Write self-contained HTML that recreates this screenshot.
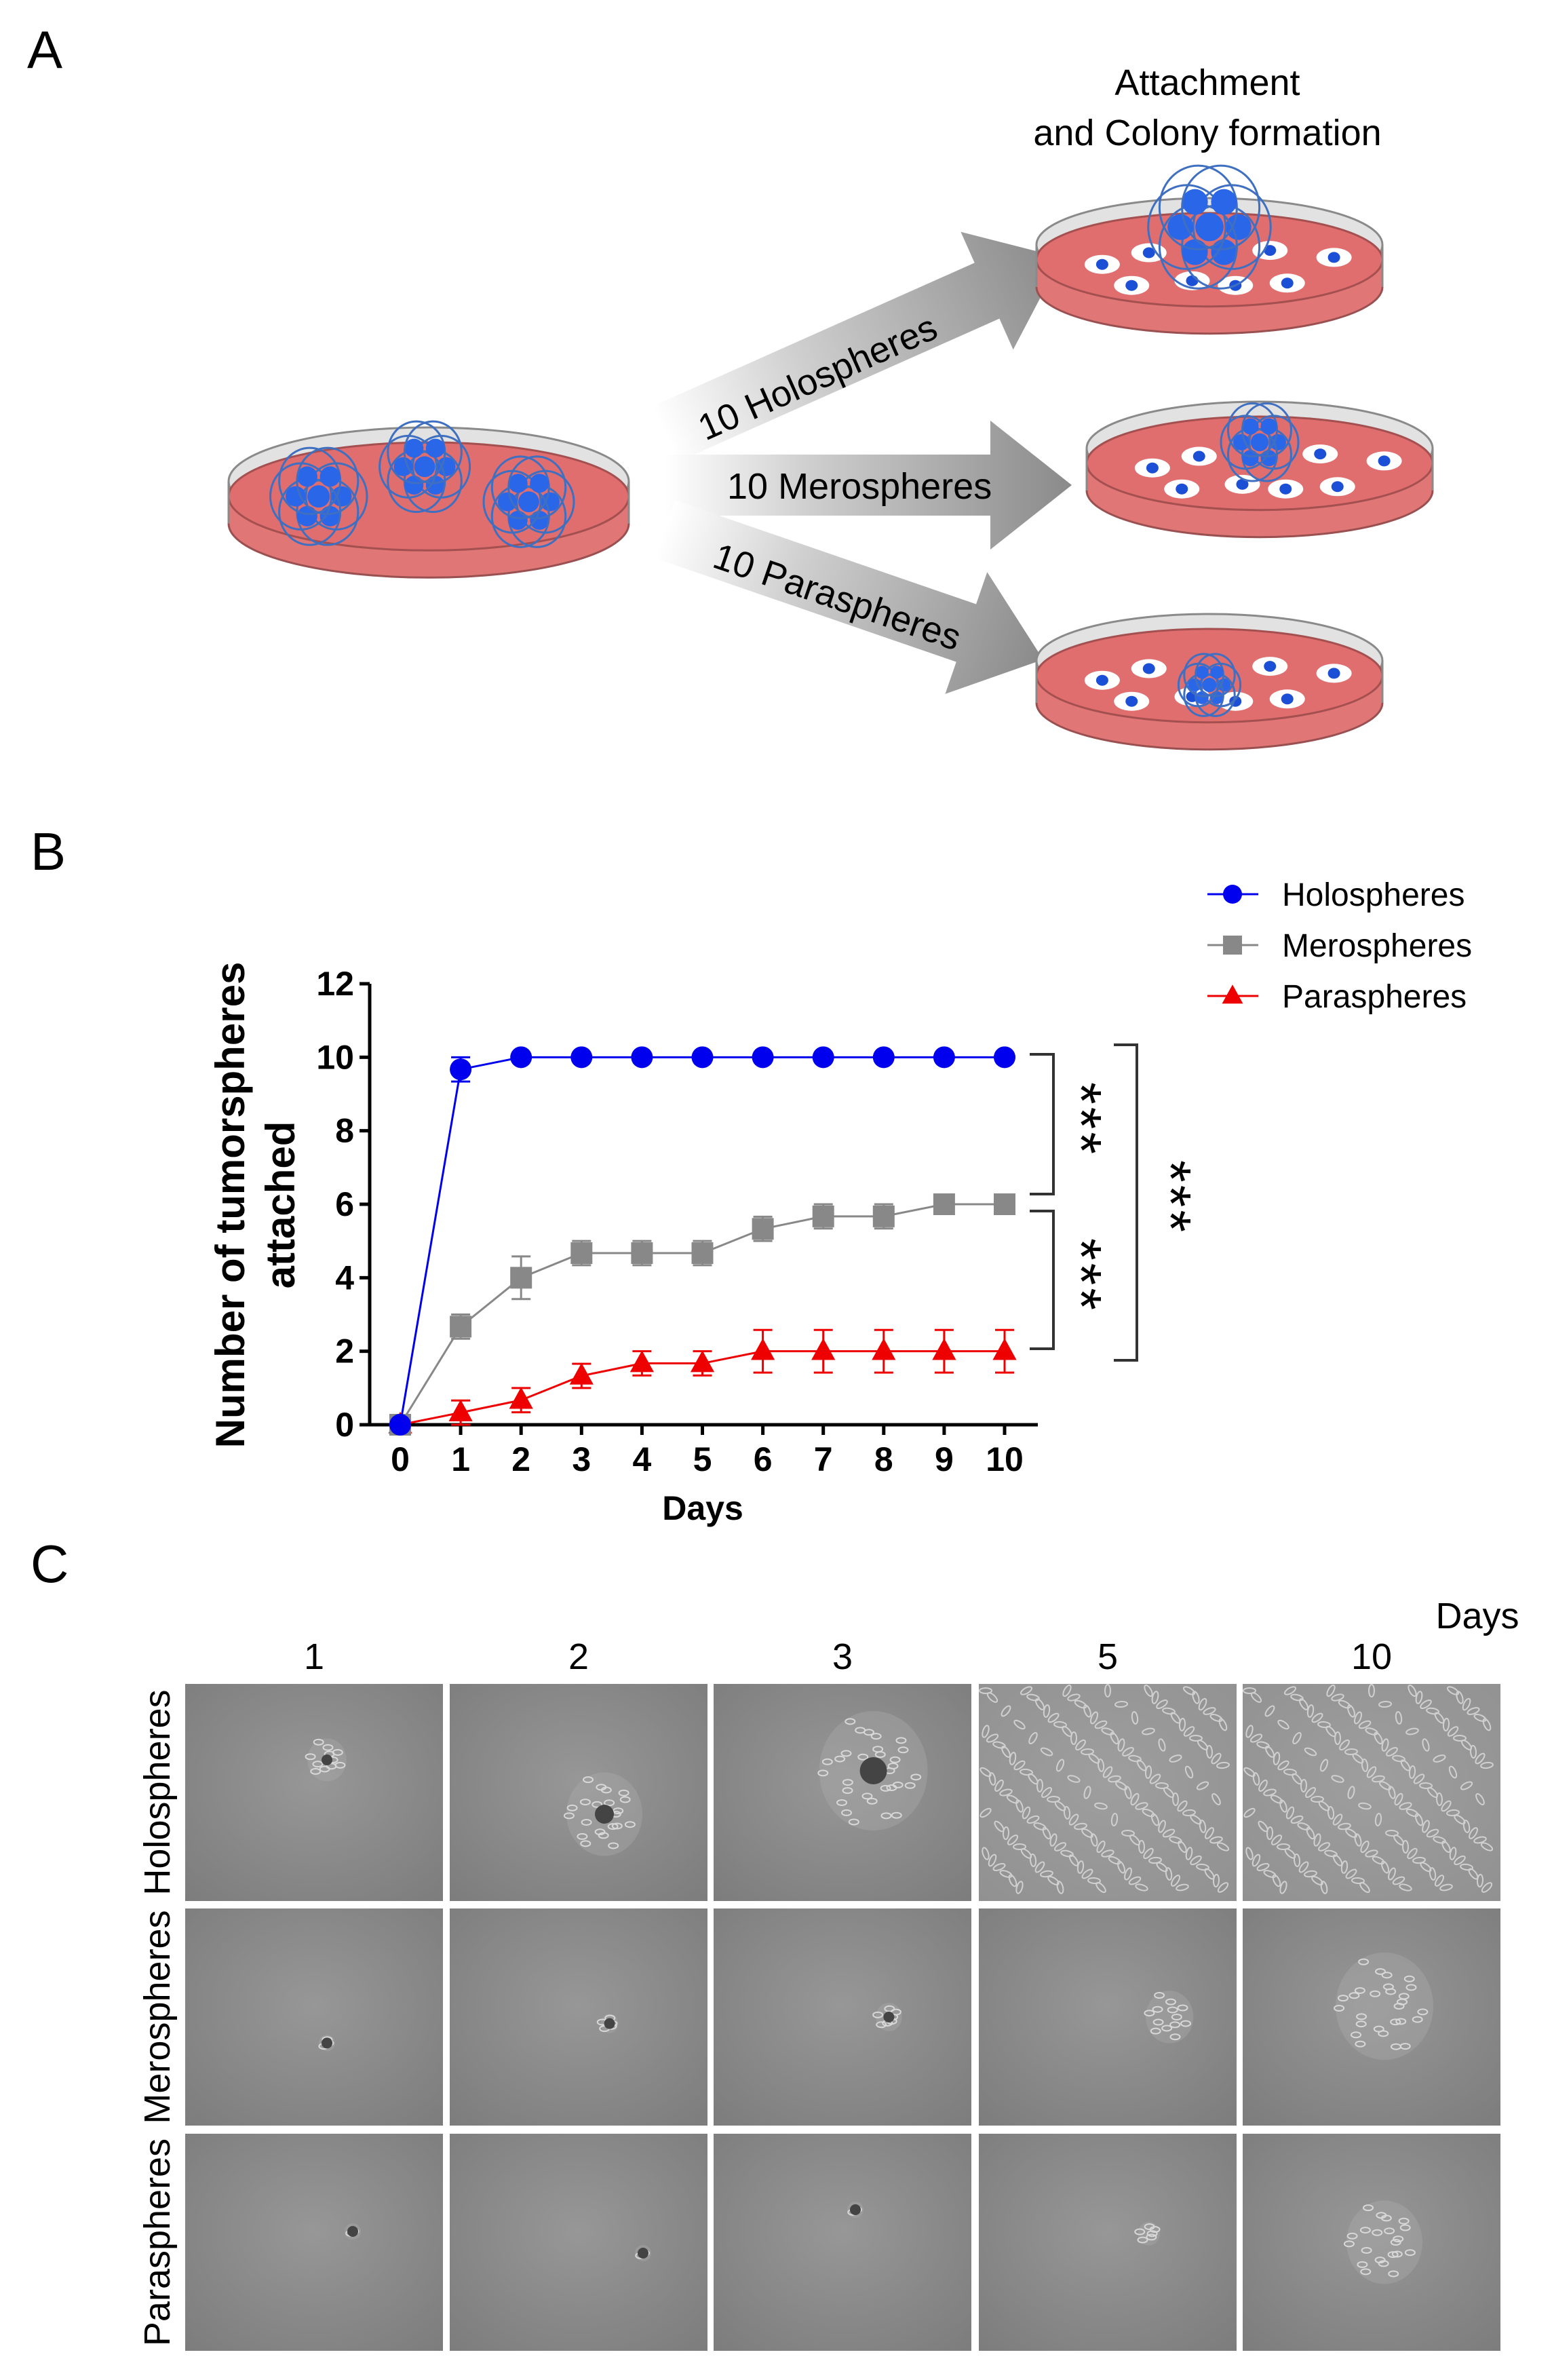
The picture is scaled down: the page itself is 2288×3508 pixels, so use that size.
<!DOCTYPE html>
<html><head><meta charset="utf-8"><style>
html,body{margin:0;padding:0;background:#fff;}
svg{display:block;}
text{font-family:"Liberation Sans",sans-serif;}
</style></head><body>
<svg id="fig" width="2288" height="3508" viewBox="0 0 2288 3508" xmlns="http://www.w3.org/2000/svg">
<defs>
<linearGradient id="arrG" x1="0" y1="0" x2="1" y2="0"><stop offset="0" stop-color="#fff"/><stop offset="0.35" stop-color="#cfcfcf"/><stop offset="1" stop-color="#8a8a8a"/></linearGradient>
<radialGradient id="photoG" cx="0.5" cy="0.45" r="0.75"><stop offset="0" stop-color="#979797"/><stop offset="1" stop-color="#7c7c7c"/></radialGradient>
</defs>
<text x="40" y="100" font-size="78">A</text>
<text x="1780" y="140" font-size="54" text-anchor="middle">Attachment</text>
<text x="1780" y="214" font-size="54" text-anchor="middle">and Colony formation</text>
<g id="arrows">
<g transform="translate(980,640) rotate(-24)"><polygon points="0,-45 520,-45 520,-95 640,0 520,95 520,45 0,45" fill="url(#arrG)"/></g>
<g transform="translate(980,715)"><polygon points="0,-45 480,-45 480,-95 600,0 480,95 480,45 0,45" fill="url(#arrG)"/></g>
<g transform="translate(980,780) rotate(19)"><polygon points="0,-45 470,-45 470,-95 590,0 470,95 470,45 0,45" fill="url(#arrG)"/></g>
</g>
<text font-size="54" transform="translate(1040,650) rotate(-24)">10 Holospheres</text>
<text font-size="54" x="1072" y="735">10 Merospheres</text>
<text font-size="54" transform="translate(1048,835) rotate(19)">10 Paraspheres</text>
<g id="dishes"></g>
<text x="45" y="1282" font-size="78">B</text>
<g id="chart"></g>
<text x="45" y="2332" font-size="78">C</text>
<text x="2178" y="2400" font-size="54" text-anchor="middle">Days</text>
<g id="photos"></g>
</svg>
<script>
const NS='http://www.w3.org/2000/svg';
function mk(tag,attrs,parent){const e=document.createElementNS(NS,tag);for(const k in attrs)e.setAttribute(k,attrs[k]);parent.appendChild(e);return e;}

const dishes=document.getElementById('dishes');
function dish(cx,top,rx,name,spheres,cells){
  const g=mk('g',{},dishes);
  
  
  const ry=rx*0.27;
  const bc=top+ry+50;
  mk('ellipse',{cx:cx,cy:bc+12,rx:rx,ry:ry,fill:'#e07676',stroke:'#9a5050','stroke-width':3},g);
  mk('rect',{x:cx-rx,y:bc-28,width:rx*2,height:40,fill:'#e07676'},g);
  mk('ellipse',{cx:cx,cy:top+ry,rx:rx,ry:ry,fill:'#e2e2e2',stroke:'#8a8a8a','stroke-width':3},g);
  mk('ellipse',{cx:cx,cy:bc-28,rx:rx,ry:ry,fill:'#e06e6e',stroke:'#a45050','stroke-width':3},g);
  mk('path',{d:`M${cx-rx},${top+ry} L${cx-rx},${bc+12} M${cx+rx},${top+ry} L${cx+rx},${bc+12}`,stroke:'#8a8a8a','stroke-width':3},g);
  cells.forEach(c=>{
    mk('ellipse',{cx:cx+c[0]*rx,cy:bc-28+c[1]*ry,rx:26,ry:14,fill:'#fff'},g);
    mk('ellipse',{cx:cx+c[0]*rx,cy:bc-28+c[1]*ry,rx:9,ry:8,fill:'#1a4fd6'},g);
  });
  spheres.forEach(s=>{
    const sx=cx+s[0]*rx, sy=bc-28+s[1]*ry, r=s[2];
    for(let i=0;i<6;i++){const a=i*Math.PI/3;
      mk('ellipse',{cx:sx+Math.cos(a)*r*0.35,cy:sy+Math.sin(a)*r*0.35,rx:r*0.6,ry:r*0.65,fill:'none',stroke:'#3f6fc0','stroke-width':3},g);
      mk('circle',{cx:sx+Math.cos(a)*r*0.45,cy:sy+Math.sin(a)*r*0.45,r:r*0.2,fill:'#2a66e8'},g);}
    mk('circle',{cx:sx,cy:sy,r:r*0.22,fill:'#2a66e8'},g);
  });
}
const cellsA=[[-0.62,0.1],[-0.35,-0.15],[0.35,-0.2],[0.72,-0.05],[-0.1,0.45],[0.15,0.55],[0.45,0.5],[-0.45,0.55]];
dish(632,630,295,'source-dish',[[-0.55,0.0,75],[-0.02,-0.55,70],[0.5,0.1,70]],[]);
dish(1783,292,255,'holosphere-dish',[[0.0,-0.7,95]],cellsA);
dish(1857,592,255,'merosphere-dish',[[0.0,-0.45,60]],cellsA);
dish(1783,905,255,'parasphere-dish',[[0.0,0.2,48]],cellsA);

// ---- chart data ----
const days=[0,1,2,3,4,5,6,7,8,9,10];
const holoMean=[0,9.67,10,10,10,10,10,10,10,10,10];
const holoErr=[0,0.33,0,0,0,0,0,0,0,0,0];
const meroMean=[0,2.67,4,4.67,4.67,4.67,5.33,5.67,5.67,6,6];
const meroErr=[0,0.33,0.58,0.33,0.33,0.33,0.33,0.33,0.33,0,0];
const paraMean=[0,0.33,0.67,1.33,1.67,1.67,2,2,2,2,2];
const paraErr=[0,0.33,0.33,0.33,0.33,0.33,0.58,0.58,0.58,0.58,0.58];
const yTicks=[0,2,4,6,8,10,12];
const seriesNames=['Holospheres','Merospheres','Paraspheres'];

const X0=590,X1=1481,Y0=2100,Y1=1450;
const xs=d=>X0+(X1-X0)*d/10;
const ys=v=>Y0-(Y0-Y1)*v/12;
const chart=document.getElementById('chart');
const ax=mk('g',{},chart);


mk('line',{x1:545,y1:Y1,x2:545,y2:Y0,stroke:'#000','stroke-width':5},ax);
mk('line',{x1:545,y1:Y0,x2:1530,y2:Y0,stroke:'#000','stroke-width':5},ax);
const TF='"Liberation Sans Narrow","Liberation Sans",sans-serif';
yTicks.forEach(t=>{
  mk('line',{x1:530,y1:ys(t),x2:545,y2:ys(t),stroke:'#000','stroke-width':5},ax);
  const tx=mk('text',{x:522,y:ys(t)+17,'font-size':50,'font-weight':'bold','text-anchor':'end','font-family':TF},ax);
  tx.textContent=t;
  
  
});
days.forEach(d=>{
  mk('line',{x1:xs(d),y1:Y0,x2:xs(d),y2:Y0+15,stroke:'#000','stroke-width':5},ax);
  const tx=mk('text',{x:xs(d),y:Y0+68,'font-size':50,'font-weight':'bold','text-anchor':'middle','font-family':TF},ax);
  tx.textContent=d;
  
  
});
const xt=mk('text',{x:1036,y:2240,'font-size':50,'font-weight':'bold','text-anchor':'middle'},chart);
xt.textContent='Days';


const yt=mk('text',{'font-size':60,'font-weight':'bold','text-anchor':'middle',transform:'translate(360,1776) rotate(-90)'},chart);
yt.textContent='Number of tumorspheres';


const yt2=mk('text',{'font-size':60,'font-weight':'bold','text-anchor':'middle',transform:'translate(434,1776) rotate(-90)'},chart);
yt2.textContent='attached';



function marker(g,type,x,y,col,s){
  if(type==='circle')mk('circle',{cx:x,cy:y,r:s,fill:col},g);
  else if(type==='square')mk('rect',{x:x-s,y:y-s,width:2*s,height:2*s,fill:col},g);
  else mk('polygon',{points:`${x},${y-s*1.2} ${x+s*1.1},${y+s*0.8} ${x-s*1.1},${y+s*0.8}`,fill:col},g);
}
function series(mean,err,col,type,name,lw){
  const g=mk('g',{},chart);
  
  
  mk('polyline',{points:days.map((d,i)=>xs(d)+','+ys(mean[i])).join(' '),fill:'none',stroke:col,'stroke-width':lw},g);
  days.forEach((d,i)=>{
    if(err[i]>0){
      const x=xs(d),a=ys(mean[i]+err[i]),b=ys(mean[i]-err[i]);
      const e=mk('path',{d:`M${x},${a}L${x},${b}M${x-14},${a}L${x+14},${a}M${x-14},${b}L${x+14},${b}`,stroke:col,'stroke-width':3,fill:'none'},g);
      
      
    }
    marker(g,type,xs(d),ys(mean[i]),col,16);
  });
}
series(paraMean,paraErr,'#ee0000','triangle','parasphere-series',3);
series(meroMean,meroErr,'#888888','square','merosphere-series',3);
series(holoMean,holoErr,'#0000ee','circle','holosphere-series',3);

const br=mk('g',{},chart);


mk('path',{d:'M1518,1554 L1553,1554 L1553,1760 L1518,1760',fill:'none',stroke:'#333','stroke-width':4},br);
mk('path',{d:'M1518,1785 L1553,1785 L1553,1988 L1518,1988',fill:'none',stroke:'#333','stroke-width':4},br);
mk('path',{d:'M1642,1540 L1676,1540 L1676,2005 L1642,2005',fill:'none',stroke:'#333','stroke-width':4},br);
[[1565,1650],[1565,1880],[1697,1765]].forEach(p=>{
  const t=mk('text',{'font-size':84,'text-anchor':'middle','letter-spacing':4,transform:`translate(${p[0]},${p[1]}) rotate(90)`},br);
  t.textContent='***';
  
  
});

const lg=mk('g',{},chart);


const legCols=['#0000ee','#888888','#ee0000'],legTypes=['circle','square','triangle'];
seriesNames.forEach((n,i)=>{
  const y=1318+i*75;
  const e=mk('g',{},lg);
  
  
  mk('line',{x1:1780,y1:y,x2:1855,y2:y,stroke:legCols[i],'stroke-width':3},e);
  marker(e,legTypes[i],1817,y,legCols[i],14);
  const t=mk('text',{x:1890,y:y+17,'font-size':48},e);
  t.textContent=n;
});

// ---- photos ----
const ph=document.getElementById('photos');
const colLabels=['1','2','3','5','10'];
const colX=[273,663,1052,1443,1832],colW=380;
const rowY=[2482,2813,3145],rowH=320;
const rowNames=['Holospheres','Merospheres','Paraspheres'];
const spread=[[0.18,0.35,0.5,1.2,1.6],[0.05,0.08,0.12,0.22,0.45],[0.03,0.04,0.04,0.1,0.35]];
const colCenters=[[[0.55,0.35],[0.6,0.6],[0.62,0.4],[0.5,0.5],[0.5,0.5]],[[0.55,0.62],[0.62,0.53],[0.68,0.5],[0.74,0.5],[0.55,0.45]],[[0.65,0.45],[0.75,0.55],[0.55,0.35],[0.66,0.46],[0.55,0.5]]];
colLabels.forEach((l,c)=>{
  const t=mk('text',{x:colX[c]+colW/2,y:2460,'font-size':54,'text-anchor':'middle'},ph);
  t.textContent=l;
  
  
});
rowNames.forEach((n,r)=>{
  const t=mk('text',{'font-size':54,'text-anchor':'middle',transform:`translate(250,${rowY[r]+rowH/2}) rotate(-90)`},ph);
  t.textContent=n;
  
  
  colLabels.forEach((l,c)=>{
    const g=mk('g',{},ph);
    
    
    const x=colX[c],y=rowY[r];
    mk('rect',{x:x,y:y,width:colW,height:rowH,fill:'url(#photoG)'},g);
    const cc=colCenters[r][c];
    const cx=x+colW*cc[0],cy=y+rowH*cc[1],s=spread[r][c];
    const R=s*160;
    if(s<1){
      mk('ellipse',{cx:cx,cy:cy,rx:Math.max(R,12),ry:Math.max(R*1.1,12),fill:'#b0b0b0',opacity:0.35},g);
      const n=Math.round(s*60);
      for(let k=0;k<n;k++){const a=k*2.4,d=R*(0.3+0.7*((k*37)%10)/10);
        mk('ellipse',{cx:cx+Math.cos(a)*d,cy:cy+Math.sin(a)*d*1.1,rx:7,ry:4,fill:'none',stroke:'#d8d8d8','stroke-width':2},g);}
      if(r===0||c<3) mk('circle',{cx:cx,cy:cy,r:Math.min(20,Math.max(8,R*0.25)),fill:'#444'},g);
    } else {
      mk('rect',{x:x,y:y,width:colW,height:rowH,fill:'#a5a5a5',opacity:0.5},g);
      for(let k=0;k<160;k++){const px=x+10+((k*53)%36)*10,py=y+10+((k*29)%30)*10;
        mk('ellipse',{cx:px,cy:py,rx:9,ry:4,fill:'none',stroke:'#d0d0d0','stroke-width':2,transform:`rotate(${(k*47)%180},${px},${py})`},g);}
    }
  });
});
</script>
</body></html>
